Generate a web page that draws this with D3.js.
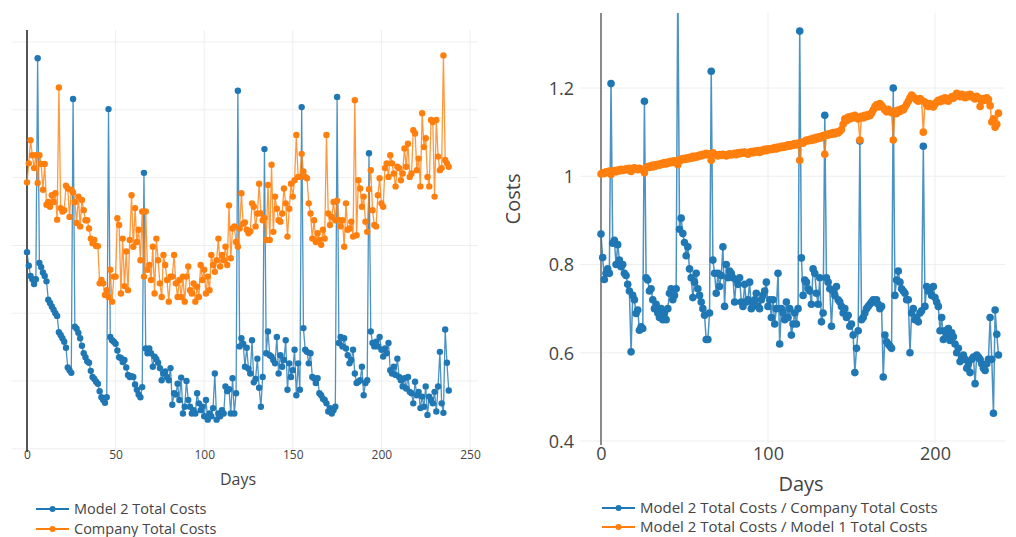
<!DOCTYPE html>
<html>
<head>
<meta charset="utf-8">
<script src="https://cdn.jsdelivr.net/npm/d3@7"></script>
<style>
  html, body { margin: 0; padding: 0; background: #fff; }
  svg { display: block; font-family: "Open Sans", "DejaVu Sans", sans-serif; }
</style>
</head>
<body>
<svg id="chart" width="1016" height="537"></svg>
<script>
// Daily totals, in thousands (left panel)
const model2Costs = [
  69, 67, 65.5, 65, 64.3, 65, 97.6,
  67.4, 66.8, 66, 65.5, 64.7, 62, 61.5, 61, 60.5, 60, 59.6, 57.2, 56.8, 56.3, 55.8, 54.9, 52, 51.6, 51.2,
  91.6,
  58, 57.7, 57.1, 56.3, 55.2, 54.1, 53.5, 52.9, 52.7, 51.5, 50.6, 50.3, 49.9, 49.6, 48.5, 47.6, 47.2, 46.8, 47.6,
  90.1,
  56.5, 56, 55.8, 55.5, 54.5, 53.5, 53.4, 52.8, 53.1, 52, 50.9, 50.6, 50.7, 50.6, 49.5, 48.7, 48, 47.6, 49.1,
  80.7,
  54.8, 54.1, 54.8, 54.1, 52.1, 53.6, 53.2, 52.7, 51.9, 50.1, 51.1, 51.4, 50.6, 50.1, 51.9, 46.5, 48.2, 48, 49.6, 47.2,
  50.5, 45.2, 46.2, 50, 47.2, 46.2, 45.2, 45.7, 45.2, 48.2, 46.7, 45.7, 46.2, 44.8, 47.2, 44.3, 45.2, 44.8, 46, 51.1,
  44.3, 45.2, 44.8, 45.7, 45.2, 49.2, 48.5, 48.8, 45.2, 50.4, 45.2, 48.2,
  92.8,
  55.1, 56.3, 55.5, 52.1, 54.9, 51.8, 51.1, 56, 49.8, 50.3, 53.3, 49, 46.2, 50.6,
  84.2,
  54.1, 57.3, 53.8, 53.6, 53.1, 52.6, 56.5, 51.1, 53.8, 52.1, 53.1, 56, 48.7, 52.6, 50.6, 51.6, 54.6, 47.9, 52.6, 48.7,
  90.4,
  57.8, 54.6, 54.3, 52.6, 54.1, 50.6, 50.4, 49.7, 50.4, 48.2, 47.9, 47.4, 47.2, 46.7, 45.5, 46, 45.2, 45.7, 46.2,
  91.9,
  55.6, 56.5, 55.1, 56.3, 54.8, 53.8, 52.6, 53.1, 54.6, 51.1, 49.7, 49.9, 50.1, 52.1, 47.9, 49.7, 50.1,
  83.6,
  57.3, 55.6, 55.1, 55.8, 55.1, 56.5, 54.6, 53.6, 54.8, 54.1, 55.6, 51.6, 51.1, 52.1, 50.9, 53.3, 50.6, 50.1, 49.2, 50.4,
  48.9, 50.6, 48.4, 48.2, 46.7, 49.9, 47.9, 48.4, 46, 47.7, 46.2, 49.2, 45, 47.7, 47.2, 46.7, 48.4, 45.5, 49.2, 54.3,
  46.7, 45.3, 57.6, 52.7, 48.6
];

const companyCosts = [
  79.3, 82.1, 85.5, 83.3, 81.4, 83.3, 79.2, 83.3, 82, 78.2,
  82, 76, 76.4, 75.7, 77.4, 76.4, 77.7, 73.8, 93.3, 75.5,
  75, 75.2, 78.8, 78.4, 74.2, 78.2, 77.8, 76.4, 73.3, 77.2,
  72.8, 76.7, 75.2, 73.7, 73.7, 72.5, 71, 70.3, 70.8, 69.9,
  69.9, 64.4, 64.9, 64.4, 62.7, 63.4, 62.4, 66.4, 61.7, 65.4,
  65.4, 74, 73, 62.9, 71, 64, 69.1, 63.4, 70.8, 77.4,
  69.8, 75.5, 70.5, 72.3, 67.8, 75, 65.4, 75, 66.4, 67.1,
  64.9, 69.8, 62.9, 71, 67.8, 64.4, 62.4, 68.6, 67.1, 64.9,
  61.7, 65.4, 65.4, 68.6, 64.4, 62.4, 64.9, 62.4, 65.4, 61.7,
  65.4, 66.9, 63.4, 62.9, 64.4, 61.7, 63.9, 62.4, 67.1, 64.9,
  66.4, 62.9, 65.4, 63.4, 68.6, 67.1, 66.1, 67.8, 71, 66.9,
  68.6, 67.8, 69.8, 67.1, 75.9, 68.1, 72.5, 72.8, 70.5, 69.8,
  72.5, 77.7, 73.2, 73.4, 72.3, 71.8, 72.1, 76.2, 75.7, 72.8,
  74.7, 79.1, 74.7, 73.7, 74, 70.8, 78.9, 70.8, 81.9, 72,
  77.2, 75.4, 73.7, 73.5, 74.7, 78.4, 76.2, 71.3, 75.4, 79.1,
  77.2, 79.6, 86.3, 80.1, 80.1, 83.5, 80.9, 80.1, 79.9, 76.2,
  74.7, 71, 73.7, 70.5, 71.8, 70.8, 70.1, 72.3, 71, 86.3,
  74.7, 73, 74.2, 76.4, 73.7, 76.6, 73.7, 72.8, 73.7, 69.8,
  76.2, 72.3, 72.5, 73.5, 71.3, 91.4, 71.5, 79.6, 78.4, 75.7,
  77.2, 73.5, 72, 78.3, 81.1, 75.2, 73, 72.8, 77.4, 79.9,
  76.2, 75.7, 81.4, 82.1, 80.1, 83.3, 82.1, 80.6, 78.7, 81.6,
  81.4, 79.6, 80.6, 84.3, 81.6, 85, 80.1, 80.6, 87, 86.5,
  81.1, 82.8, 78.7, 89.5, 84.5, 85.8, 80.1, 78.7, 88.5, 88.2,
  77.2, 88.5, 83.1, 81.1, 81.4, 98, 82.6, 82.1, 81.6
];

// Cost ratios (right panel)
const ratioToCompany = [
  0.869, 0.816, 0.766, 0.780, 0.790, 0.780, 1.21,
  0.848, 0.855, 0.80, 0.845, 0.81, 0.795, 0.80, 0.78, 0.775, 0.755, 0.74, 0.602, 0.73, 0.72, 0.689, 0.697, 0.651, 0.659, 0.655,
  1.17,
  0.77, 0.765, 0.74, 0.745, 0.72, 0.70, 0.71, 0.69, 0.68, 0.70, 0.675, 0.69, 0.675, 0.70, 0.735, 0.745, 0.72, 0.73, 0.745,
  1.45,
  0.88, 0.905, 0.87, 0.85, 0.82, 0.84, 0.79, 0.77, 0.725, 0.76, 0.78, 0.745, 0.73, 0.715, 0.70, 0.685, 0.63, 0.63, 0.69,
  1.238,
  0.81, 0.78, 0.735, 0.78, 0.75, 0.775, 0.84, 0.705, 0.80, 0.77, 0.785, 0.78, 0.77, 0.715, 0.765, 0.755, 0.77, 0.715, 0.705, 0.755,
  0.715, 0.72, 0.76, 0.70, 0.71, 0.72, 0.735, 0.705, 0.70, 0.72, 0.73, 0.74, 0.76, 0.705, 0.72, 0.68, 0.72, 0.665, 0.70, 0.78,
  0.62, 0.70, 0.69, 0.675, 0.715, 0.68, 0.70, 0.64, 0.665, 0.69, 0.665, 0.70,
  1.329,
  0.815, 0.73, 0.765, 0.76, 0.745, 0.74, 0.71, 0.79, 0.78, 0.735, 0.71, 0.77, 0.67, 0.69,
  1.138,
  0.77, 0.76, 0.745, 0.66, 0.74, 0.73, 0.75, 0.72, 0.715, 0.705, 0.69, 0.70, 0.68, 0.685, 0.66, 0.665, 0.64, 0.555, 0.61, 0.65,
  1.08,
  0.675, 0.68, 0.69, 0.70, 0.705, 0.71, 0.715, 0.72, 0.715, 0.72, 0.71, 0.70, 0.705, 0.545, 0.64, 0.625, 0.62, 0.615, 0.61,
  1.2,
  0.73, 0.765, 0.785, 0.76, 0.745, 0.74, 0.735, 0.72, 0.72, 0.60, 0.69, 0.70, 0.675, 0.68, 0.67, 0.69, 0.695,
  1.068,
  0.705, 0.75, 0.74, 0.745, 0.73, 0.75, 0.725, 0.715, 0.705, 0.65, 0.68, 0.63, 0.65, 0.64, 0.655, 0.628, 0.645, 0.636, 0.62, 0.60,
  0.61, 0.58, 0.59, 0.595, 0.585, 0.565, 0.575, 0.555, 0.585, 0.59, 0.53, 0.595, 0.59, 0.585, 0.575, 0.565, 0.56, 0.575, 0.585, 0.68,
  0.585, 0.463, 0.697, 0.642, 0.595
];

const ratioToModel1 = [
  1.005, 1.008, 1.006, 1.010, 1.009, 1.012, 1.004, 1.011, 1.013, 1.010,
  1.014, 1.012, 1.016, 1.013, 1.015, 1.017, 1.014, 1.018, 1.011, 1.016,
  1.019, 1.017, 1.015, 1.018, 1.016, 1.014, 1.008, 1.019, 1.022, 1.020,
  1.024, 1.021, 1.026, 1.023, 1.027, 1.025, 1.029, 1.027, 1.031, 1.028,
  1.032, 1.030, 1.034, 1.031, 1.035, 1.033, 1.026, 1.038, 1.036, 1.040,
  1.038, 1.041, 1.039, 1.043, 1.041, 1.045, 1.042, 1.046, 1.044, 1.048,
  1.046, 1.050, 1.048, 1.052, 1.049, 1.051, 1.036, 1.053, 1.050, 1.048,
  1.046, 1.049, 1.047, 1.050, 1.048, 1.046, 1.049, 1.051, 1.048, 1.050,
  1.052, 1.049, 1.053, 1.051, 1.054, 1.052, 1.055, 1.053, 1.050, 1.054,
  1.056, 1.053, 1.057, 1.055, 1.058, 1.054, 1.059, 1.057, 1.061, 1.058,
  1.062, 1.060, 1.063, 1.061, 1.065, 1.062, 1.066, 1.064, 1.068, 1.065,
  1.069, 1.067, 1.071, 1.068, 1.072, 1.070, 1.074, 1.071, 1.075, 1.036,
  1.077, 1.075, 1.079, 1.082, 1.080, 1.084, 1.081, 1.086, 1.083, 1.088,
  1.085, 1.090, 1.087, 1.092, 1.050, 1.095, 1.093, 1.097, 1.095, 1.099,
  1.096, 1.100, 1.098, 1.102, 1.106, 1.118, 1.130, 1.126, 1.134, 1.130,
  1.136, 1.132, 1.138, 1.134, 1.130, 1.082, 1.136, 1.132, 1.138, 1.135,
  1.140, 1.137, 1.143, 1.150, 1.158, 1.162, 1.157, 1.165, 1.160, 1.155,
  1.150, 1.146, 1.152, 1.148, 1.144, 1.082, 1.148, 1.142, 1.150, 1.147,
  1.153, 1.150, 1.157, 1.163, 1.170, 1.178, 1.184, 1.180, 1.176, 1.173,
  1.170, 1.176, 1.172, 1.100, 1.168, 1.162, 1.158, 1.165, 1.161, 1.157,
  1.163, 1.168, 1.172, 1.169, 1.175, 1.171, 1.178, 1.174, 1.170, 1.176,
  1.180, 1.177, 1.183, 1.188, 1.184, 1.180, 1.186, 1.182, 1.178, 1.184,
  1.180, 1.186, 1.182, 1.178, 1.175, 1.181, 1.177, 1.158, 1.170, 1.176,
  1.172, 1.178, 1.174, 1.160, 1.123, 1.130, 1.111, 1.118, 1.143
];

const leftXTicks = [0, 50, 100, 150, 200, 250];
const leftYGrid = [40, 50, 60, 70, 80, 90, 100];
const rightXTicks = [0, 100, 200];
const rightYTicks = [0.4, 0.6, 0.8, 1, 1.2];
const rightYLabels = ["0.4", "0.6", "0.8", "1", "1.2"];
const leftLegend = ["Model 2 Total Costs", "Company Total Costs"];
const rightLegend = ["Model 2 Total Costs / Company Total Costs", "Model 2 Total Costs / Model 1 Total Costs"];
const seriesColors = ["#1f77b4", "#ff7f0e"];

const svg = d3.select("#chart");

function drawPanel(cfg) {
  const { id, box, x, y, xTicks, yGrid, series, lineWidth, radius, zeroColor } = cfg;
  const g = svg.append("g");

  g.append("clipPath").attr("id", id)
    .append("rect")
    .attr("x", box.x0).attr("y", box.y0)
    .attr("width", box.x1 - box.x0).attr("height", box.y1 - box.y0);

  // grid
  const grid = g.append("g").attr("stroke", "#eeeeee").attr("stroke-width", 1);
  grid.selectAll("line.v").data(xTicks.filter(t => t !== 0)).join("line")
    .attr("x1", d => x(d)).attr("x2", d => x(d))
    .attr("y1", box.y0).attr("y2", box.y1);
  grid.selectAll("line.h").data(yGrid).join("line")
    .attr("x1", box.x0).attr("x2", box.x1)
    .attr("y1", d => y(d)).attr("y2", d => y(d));

  // zero line of the day axis
  g.append("line")
    .attr("x1", x(0)).attr("x2", x(0))
    .attr("y1", box.y0).attr("y2", box.y1 + 2)
    .attr("stroke", zeroColor).attr("stroke-width", 2);

  const plot = g.append("g").attr("clip-path", `url(#${id})`);
  series.forEach((vals, i) => {
    const pts = vals.map((v, d) => [d, v]);
    const line = d3.line().x(p => x(p[0])).y(p => y(p[1]));
    plot.append("path")
      .attr("d", line(pts))
      .attr("fill", "none")
      .attr("stroke", seriesColors[i])
      .attr("stroke-opacity", 0.8)
      .attr("stroke-width", lineWidth);
    plot.append("g").selectAll("circle").data(pts).join("circle")
      .attr("cx", p => x(p[0])).attr("cy", p => y(p[1]))
      .attr("r", radius)
      .attr("fill", seriesColors[i]);
  });
  return g;
}

function drawLegend(items, lx, ly, gap, fontSize) {
  const g = svg.append("g");
  items.forEach((label, i) => {
    const cy = ly + i * gap;
    g.append("line")
      .attr("x1", lx).attr("x2", lx + 33)
      .attr("y1", cy).attr("y2", cy)
      .attr("stroke", seriesColors[i]).attr("stroke-width", 2);
    g.append("circle").attr("cx", lx + 16.5).attr("cy", cy).attr("r", 3)
      .attr("fill", seriesColors[i]);
    g.append("text")
      .attr("x", lx + 38).attr("y", cy).attr("dy", "0.35em")
      .attr("font-size", fontSize).attr("fill", "#444")
      .text(label);
  });
}

// ---- left panel: daily totals ----
const leftBox = { x0: 12, x1: 478, y0: 30, y1: 450 };
const xL = d3.scaleLinear().domain([0, 250]).range([27, 470]);
const yL = d3.scaleLinear().domain([40, 100]).range([448.8, 42]);

drawPanel({
  id: "clipLeft", box: leftBox, x: xL, y: yL,
  xTicks: leftXTicks, yGrid: leftYGrid,
  series: [model2Costs, companyCosts],
  lineWidth: 1.3, radius: 3.2, zeroColor: "#555"
});

const axL = svg.append("g").attr("transform", "translate(0,455)")
  .call(d3.axisBottom(xL).tickValues(leftXTicks).tickSize(0).tickFormat(d3.format("d")));
axL.select(".domain").remove();
axL.selectAll("text").attr("y", 0).attr("dy", "0.35em")
  .attr("font-size", 12).attr("fill", "#444")
  .attr("font-family", "\"Open Sans\", sans-serif");

svg.append("text").attr("x", 238).attr("y", 485)
  .attr("text-anchor", "middle").attr("font-size", 16).attr("fill", "#444")
  .text("Days");

drawLegend(leftLegend, 36, 509, 20, 14.5);

// ---- right panel: cost ratios ----
const rightBox = { x0: 580, x1: 1005, y0: 13, y1: 443 };
const xR = d3.scaleLinear().domain([0, 200]).range([601, 935]);
const yR = d3.scaleLinear().domain([0.4, 1.2]).range([441, 88]);

drawPanel({
  id: "clipRight", box: rightBox, x: xR, y: yR,
  xTicks: rightXTicks, yGrid: rightYTicks,
  series: [ratioToCompany, ratioToModel1],
  lineWidth: 1.5, radius: 3.8, zeroColor: "#8a8a8a"
});

const axRx = svg.append("g").attr("transform", "translate(0,454)")
  .call(d3.axisBottom(xR).tickValues(rightXTicks).tickSize(0).tickFormat(d3.format("d")));
axRx.select(".domain").remove();
axRx.selectAll("text").attr("y", 0).attr("dy", "0.35em")
  .attr("font-size", 18).attr("fill", "#444")
  .attr("font-family", "\"Open Sans\", sans-serif");

const axRy = svg.append("g").attr("transform", "translate(574,0)")
  .call(d3.axisLeft(yR).tickValues(rightYTicks).tickSize(0)
    .tickFormat((d, i) => rightYLabels[i]));
axRy.select(".domain").remove();
axRy.selectAll("text").attr("x", 0).attr("dy", "0.35em")
  .attr("font-size", 18).attr("fill", "#444")
  .attr("font-family", "\"Open Sans\", sans-serif");

svg.append("text").attr("x", 801).attr("y", 491)
  .attr("text-anchor", "middle").attr("font-size", 20).attr("fill", "#444")
  .text("Days");

svg.append("text")
  .attr("transform", "translate(520,199) rotate(-90)")
  .attr("text-anchor", "middle").attr("font-size", 20).attr("fill", "#444")
  .text("Costs");

drawLegend(rightLegend, 602, 508, 19, 15);
</script>
</body>
</html>
